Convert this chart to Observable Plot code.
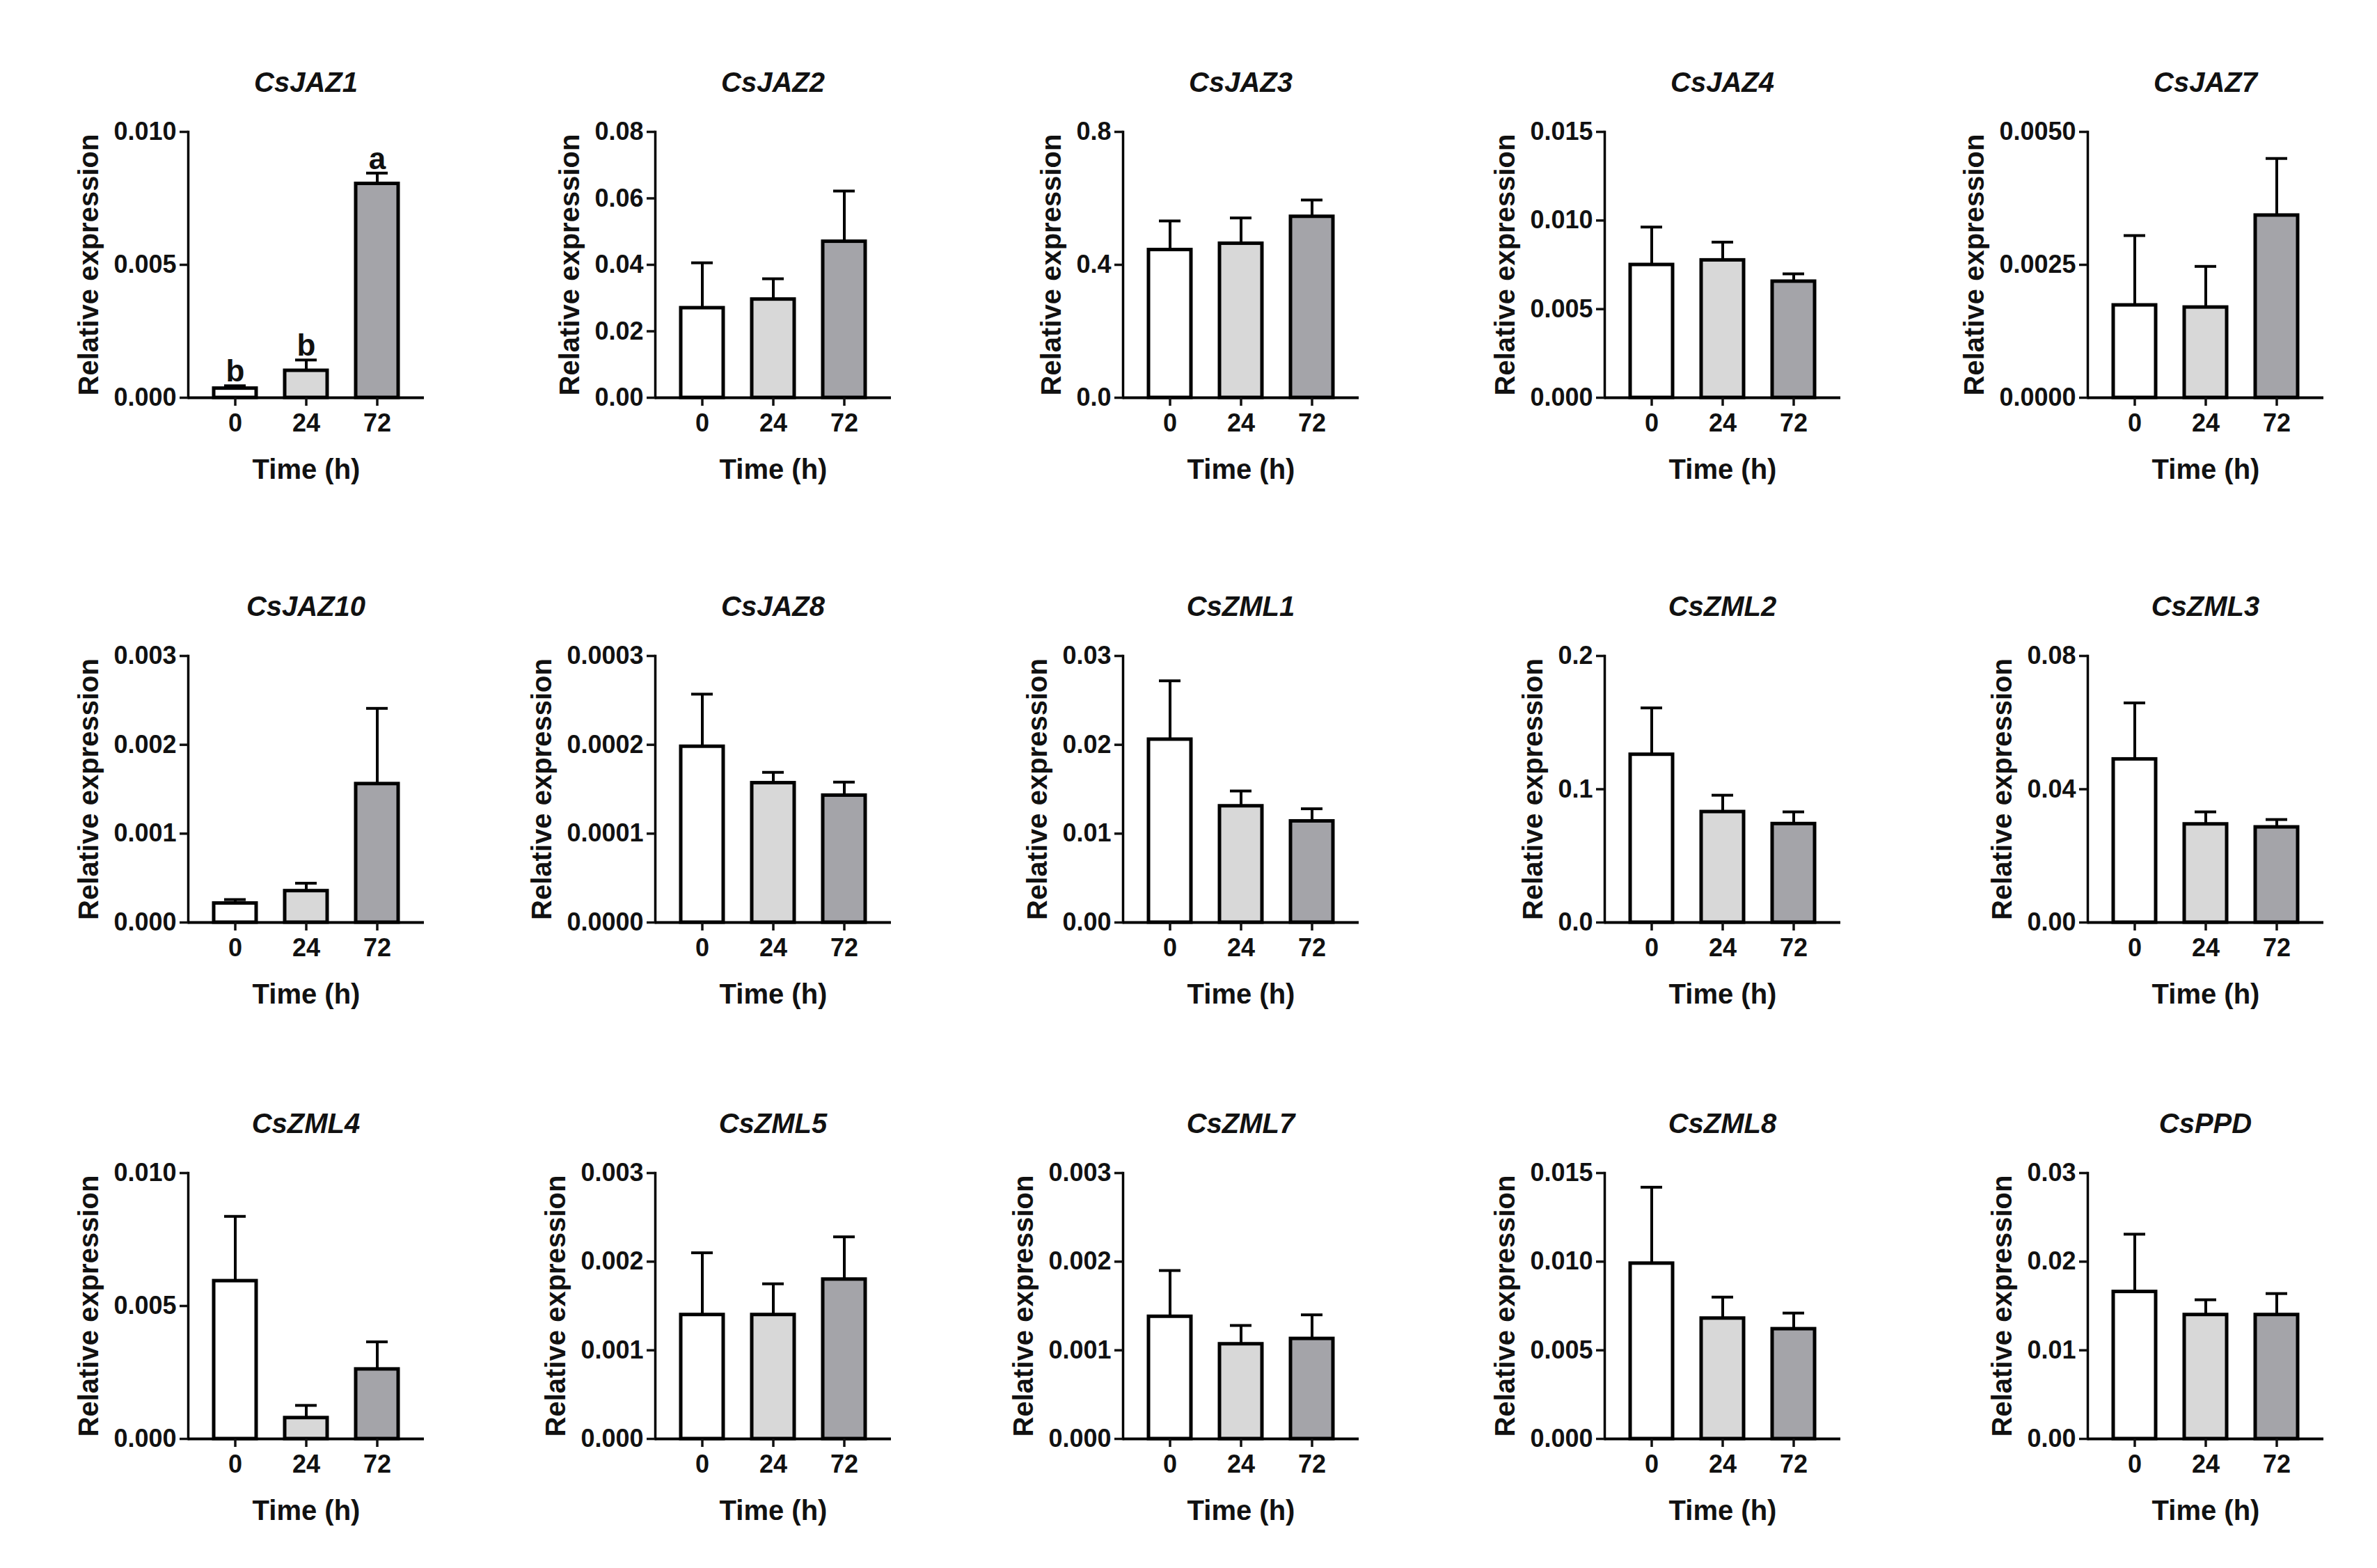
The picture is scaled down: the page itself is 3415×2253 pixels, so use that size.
<!DOCTYPE html>
<html>
<head>
<meta charset="utf-8">
<script src="https://cdn.jsdelivr.net/npm/d3@7"></script>
<script src="https://cdn.jsdelivr.net/npm/@observablehq/plot@0.6"></script>
<style>
  html, body { margin: 0; padding: 0; background: #ffffff; }
  #fig { position: relative; width: 3415px; height: 2253px; background: #ffffff; overflow: hidden; }
  .panel { position: absolute; }
  .ttl { position: absolute; transform: translate(-50%, -50%); font-family: "Liberation Sans", Arial, sans-serif;
         font-weight: bold; font-style: italic; font-size: 40px; color: #111; white-space: nowrap; }
</style>
</head>
<body>
<div id="fig"></div>
<script>
// ---------------- data ----------------
const genes = ["CsJAZ1","CsJAZ2","CsJAZ3","CsJAZ4","CsJAZ7",
               "CsJAZ10","CsJAZ8","CsZML1","CsZML2","CsZML3",
               "CsZML4","CsZML5","CsZML7","CsZML8","CsPPD"];
const times = ["0", "24", "72"];
const yTickLabels = [
  ["0.000","0.005","0.010"],
  ["0.00","0.02","0.04","0.06","0.08"],
  ["0.0","0.4","0.8"],
  ["0.000","0.005","0.010","0.015"],
  ["0.0000","0.0025","0.0050"],
  ["0.000","0.001","0.002","0.003"],
  ["0.0000","0.0001","0.0002","0.0003"],
  ["0.00","0.01","0.02","0.03"],
  ["0.0","0.1","0.2"],
  ["0.00","0.04","0.08"],
  ["0.000","0.005","0.010"],
  ["0.000","0.001","0.002","0.003"],
  ["0.000","0.001","0.002","0.003"],
  ["0.000","0.005","0.010","0.015"],
  ["0.00","0.01","0.02","0.03"]
];
const means = [
  [0.00035, 0.00102, 0.00805],
  [0.027, 0.0296, 0.047],
  [0.445, 0.464, 0.545],
  [0.0075, 0.00776, 0.00656],
  [0.00174, 0.0017, 0.00343],
  [0.000216, 0.000355, 0.00156],
  [0.000198, 0.000157, 0.000143],
  [0.0206, 0.0131, 0.0114],
  [0.126, 0.083, 0.074],
  [0.049, 0.0295, 0.0286],
  [0.00594, 0.00079, 0.00262],
  [0.0014, 0.0014, 0.0018],
  [0.00138, 0.00107, 0.00113],
  [0.0099, 0.0068, 0.0062],
  [0.0166, 0.014, 0.014]
];
const sems = [
  [0.0001, 0.0004, 0.0004],
  [0.0136, 0.0062, 0.0152],
  [0.087, 0.077, 0.05],
  [0.00213, 0.00102, 0.00043],
  [0.00131, 0.00077, 0.00107],
  [0.000042, 0.000087, 0.00085],
  [0.000059, 0.000012, 0.000015],
  [0.0066, 0.0017, 0.0014],
  [0.035, 0.0125, 0.009],
  [0.0169, 0.0037, 0.0023],
  [0.00243, 0.00047, 0.00103],
  [0.0007, 0.00035, 0.00048],
  [0.00052, 0.00021, 0.00027],
  [0.0043, 0.0012, 0.0009],
  [0.0065, 0.0017, 0.0024]
];
const letters = [["b","b","a"], null, null, null, null, null, null, null, null, null, null, null, null, null, null];
const yLabel = "Relative expression";
const xLabel = "Time (h)";

// ---------------- layout / style ----------------
const FONT = '"Liberation Sans", Arial, sans-serif';
const fills = ["#ffffff", "#d8d8d8", "#a4a4a9"];
const colX = [270, 941, 1613, 2305, 2999];
const rowTop = [189, 942, 1685];
const rowBase = [571, 1325, 2067];
const frameW = 339;
const mL = 230, mR = 20, mT = 40, mB = 150;
const tickFont = 36, labelFont = 40;

const ctx = document.createElement("canvas").getContext("2d");
ctx.font = `bold ${tickFont}px ${FONT}`;

const fig = document.getElementById("fig");

genes.forEach((g, i) => {
  const r = Math.floor(i / 5), c = i % 5;
  const frameH = rowBase[r] - rowTop[r];
  const ticks = yTickLabels[i].map(Number);
  const yMax = ticks[ticks.length - 1];
  const fmtMap = new Map(yTickLabels[i].map(s => [Number(s), s]));
  const rows = times.map((t, k) => ({time: t, mean: means[i][k], sem: sems[i][k], letter: letters[i] ? letters[i][k] : null}));
  const tw = d3.max(yTickLabels[i], s => ctx.measureText(s).width);
  const yOff = tw + 52;

  const marks = [
    Plot.barY(rows, {x: "time", y: "mean", fill: "time", stroke: "#000", strokeWidth: 5}),
    Plot.ruleX(rows, {x: "time", y1: "mean", y2: d => d.mean + d.sem, stroke: "#000", strokeWidth: 4}),
    Plot.tickY(rows, {x: "time", y: d => d.mean + d.sem, stroke: "#000", strokeWidth: 4, insetLeft: 15, insetRight: 15}),
    Plot.frame({anchor: "left", stroke: "#000", strokeWidth: 3.5}),
    Plot.ruleY([0], {stroke: "#000", strokeWidth: 4}),
    Plot.axisY({ticks, tickFormat: v => fmtMap.get(v) ?? String(v), tickSize: 12, tickPadding: 5, strokeWidth: 3.5, label: null, fontSize: tickFont}),
    Plot.axisX({tickSize: 12, tickPadding: 11, strokeWidth: 3.5, label: null, fontSize: tickFont}),
    Plot.text([yLabel], {frameAnchor: "left", rotate: -90, dx: -yOff, fontSize: labelFont, textAnchor: "middle", lineAnchor: "middle"}),
    Plot.text([xLabel], {frameAnchor: "bottom", dy: 104, fontSize: labelFont, textAnchor: "middle", lineAnchor: "middle"})
  ];
  if (letters[i]) {
    marks.push(Plot.text(rows, {x: "time", y: d => d.mean + d.sem, text: "letter", dy: -6, lineAnchor: "bottom", fontSize: 44}));
  }

  const svg = Plot.plot({
    width: mL + frameW + mR,
    height: mT + frameH + mB,
    marginLeft: mL, marginRight: mR, marginTop: mT, marginBottom: mB,
    style: {fontFamily: FONT, fontWeight: "bold", fontSize: `${tickFont}px`, color: "#111", background: "transparent", overflow: "visible"},
    x: {type: "band", domain: times, paddingInner: 0.4, paddingOuter: 0.36, label: null},
    y: {domain: [0, yMax], label: null},
    color: {type: "ordinal", domain: times, range: fills},
    marks
  });
  const wrap = document.createElement("div");
  wrap.className = "panel";
  wrap.style.left = (colX[c] - mL) + "px";
  wrap.style.top = (rowTop[r] - mT) + "px";
  wrap.appendChild(svg);
  fig.appendChild(wrap);

  const t = document.createElement("div");
  t.className = "ttl";
  t.textContent = g;
  t.style.left = (colX[c] + frameW / 2) + "px";
  t.style.top = (rowTop[r] - 71) + "px";
  fig.appendChild(t);
});
</script>
</body>
</html>
